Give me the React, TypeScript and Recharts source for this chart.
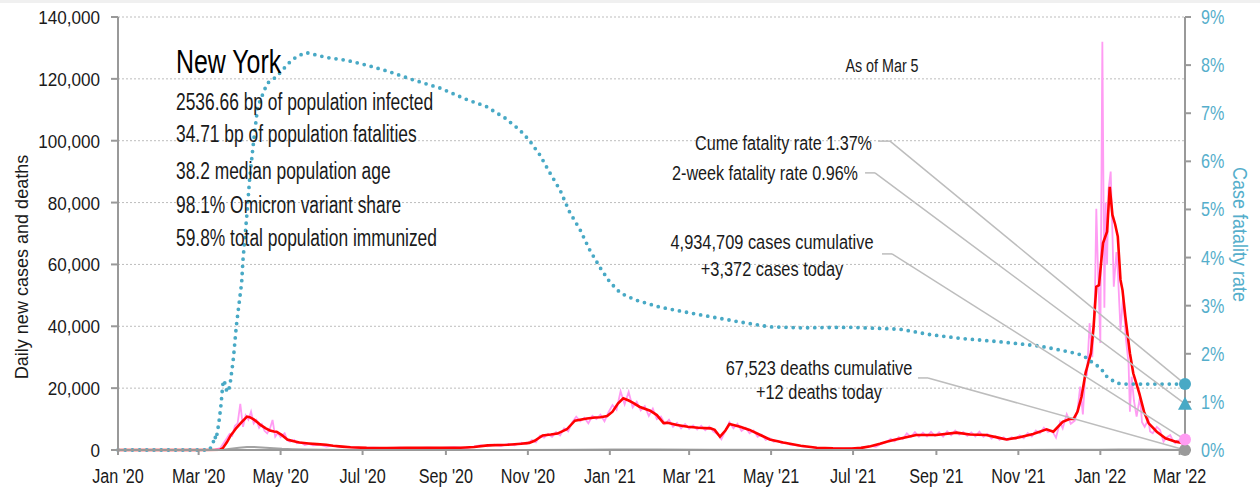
import React from 'react';
import { ComposedChart, Line, XAxis, YAxis, CartesianGrid, ReferenceDot, ReferenceLine } from 'recharts';

const FONT = '"Liberation Sans", Arial, sans-serif';
const TEAL = '#48a9c5';
const TEAL_TEXT = '#55aecb';
const PINK = '#ff9cf3';
const RED = '#ff0000';
const GREY = '#a3a3a3';
const INK = '#1a1a1a';

// x values are days since 1 Jan 2020, the last one is 5 Mar 2022
const lastDay = 794;
const monthTickDays = [0, 60, 121, 182, 244, 305, 366, 425, 486, 547, 609, 670, 731, 790];
const monthTickLabels = ["Jan '20", "Mar '20", "May '20", "Jul '20", "Sep '20", "Nov '20", "Jan '21", "Mar '21", "May '21", "Jul '21", "Sep '21", "Nov '21", "Jan '22", "Mar '22"];
const caseTicks = [0, 20000, 40000, 60000, 80000, 100000, 120000, 140000];
const rateTicks = [0, 1, 2, 3, 4, 5, 6, 7, 8, 9];

// daily new cases (as reported)
const rawCases: [number, number][] = [
  [0, 0], [60, 0], [72, 100], [76, 600], [79, 2500], [81, 3800], [83, 5200], [85, 4600], [87, 7800], [89, 8600],
  [91, 14900], [93, 7500], [95, 11200], [97, 9800], [99, 12400], [101, 8600], [103, 9700], [105, 7200], [107, 8400],
  [109, 6200], [111, 5400], [113, 6800], [115, 9700], [117, 4300], [119, 5600], [121, 4200], [124, 5400], [126, 3100],
  [128, 2700], [131, 3300], [133, 2200], [136, 2500], [139, 1600], [142, 2000], [145, 1500], [150, 1700], [155, 1100],
  [160, 1400], [165, 900], [170, 1000], [180, 700], [190, 800], [200, 600], [210, 750], [220, 600], [230, 800],
  [240, 650], [250, 900], [260, 700], [270, 1600], [275, 1200], [280, 1700], [285, 1300], [290, 2000], [295, 1500],
  [300, 2400], [304, 1900], [308, 3200], [311, 2500], [314, 4600], [317, 4000], [320, 5200], [323, 4300], [326, 5800],
  [329, 4700], [332, 7000], [335, 6000], [338, 9000], [341, 10800], [344, 9300], [347, 10400], [350, 8600], [353, 11000],
  [356, 10000], [359, 11400], [362, 9300], [365, 12200], [368, 14500], [371, 13000], [374, 19000], [377, 14800],
  [380, 18800], [383, 13800], [386, 15600], [389, 12800], [392, 14200], [395, 11000], [398, 13400], [401, 10000],
  [404, 10800], [407, 8400], [410, 9800], [413, 7500], [416, 8800], [419, 7000], [422, 8400], [425, 6900], [428, 7900],
  [431, 6600], [434, 7800], [437, 6400], [440, 7600], [443, 6000], [446, 5200], [449, 3500], [452, 6200], [455, 9000],
  [458, 7000], [461, 8500], [464, 6200], [467, 7200], [470, 5400], [473, 6300], [476, 4300], [479, 5000], [482, 3300],
  [485, 3800], [488, 2700], [491, 3000], [494, 2200], [497, 2400], [500, 1700], [505, 1500], [510, 1100], [515, 1000],
  [520, 700], [530, 600], [540, 450], [550, 600], [556, 900], [560, 1300], [564, 1000], [568, 2000], [572, 2600],
  [575, 3600], [578, 2800], [581, 4200], [584, 3500], [587, 5400], [590, 4200], [593, 5800], [596, 4300], [599, 5600],
  [602, 4400], [605, 5900], [608, 4500], [611, 5700], [614, 4300], [617, 6000], [620, 4800], [623, 6300], [626, 5000],
  [629, 5800], [632, 4600], [635, 5700], [638, 4400], [641, 5900], [644, 4300], [647, 5200], [650, 3700], [653, 4500],
  [656, 3300], [659, 4100], [662, 3200], [665, 4100], [668, 3600], [671, 4700], [674, 3800], [677, 5500], [680, 4400],
  [683, 6300], [686, 5400], [689, 7200], [692, 5800], [695, 6300], [698, 4000], [701, 9000], [703, 7000], [706, 11600],
  [709, 8500], [712, 9500], [714, 12800], [716, 20500], [718, 11500], [720, 25900], [721, 24000], [723, 41000],
  [725, 30000], [727, 50000], [728, 78000], [729, 62000], [731, 34600], [732.5, 132000], [734, 46000], [735, 80000],
  [736, 60000], [737, 84000], [738.7, 90000], [740, 70000], [741, 52800], [743, 64000], [744, 58000], [746, 38800],
  [748, 50000], [750, 36000], [752, 28000], [753, 12400], [754.3, 23700], [756, 16000], [758, 10800], [760.5, 17200],
  [762, 9000], [764, 7500], [766.7, 9900], [768, 6000], [770, 5400], [773, 7500], [775.4, 6500], [778, 2700],
  [780, 4000], [783, 4800], [785, 3000], [786.7, 2200], [788, 3000], [790.5, 3200], [792, 1800], [794, 3372],
];

// 7-day average of new cases
const avgCases: [number, number][] = [
  [0, 0], [60, 0], [76, 100], [78, 600], [81, 2500], [84, 4800], [86, 5900], [88, 7100], [92, 9000], [96, 10800],
  [98, 10600], [101, 9900], [104, 8900], [106, 8100], [110, 7000], [113, 6300], [116, 6000], [118, 5900], [122, 4800],
  [126, 3400], [130, 2900], [135, 2400], [142, 2100], [148, 1900], [155, 1700], [160, 1400], [167, 1100], [173, 870],
  [185, 700], [200, 650], [215, 700], [230, 700], [243, 700], [255, 750], [265, 950], [275, 1500], [290, 1700],
  [300, 2000], [306, 2300], [310, 3000], [316, 4700], [322, 5000], [327, 5300], [334, 6700], [340, 9500], [349, 10200],
  [355, 10500], [359, 10600], [364, 11000], [368, 12400], [372, 15000], [376, 16700], [380, 16000], [383, 15300],
  [388, 14000], [396, 12700], [401, 11300], [406, 8700], [409, 8800], [416, 8100], [424, 7500], [432, 7200],
  [441, 7000], [444, 6500], [448, 4300], [452, 6300], [455, 8400], [463, 7500], [470, 6500], [478, 4850], [485, 3400],
  [495, 2400], [508, 1400], [520, 750], [532, 550], [546, 500], [553, 700], [560, 1200], [567, 2000], [572, 2700],
  [578, 3300], [584, 3900], [594, 4850], [609, 4850], [624, 5600], [634, 5000], [646, 4850], [655, 4000], [661, 3400],
  [671, 4100], [681, 5200], [691, 6700], [696, 5900], [703, 9100], [708, 10000], [711, 10000], [714, 12400],
  [717, 17200], [720, 24900], [724, 31300], [726, 39900], [728, 52800], [730, 53300], [732, 62500], [733, 66900],
  [736, 70600], [738, 85100], [740, 76000], [742, 73000], [744, 69000], [746, 55000], [747.5, 51700], [749.6, 43100],
  [753, 31300], [755.5, 24800], [760, 18300], [763.5, 12400], [767, 8600], [773, 5900], [779.5, 3800], [787, 2700],
  [794, 2100],
];

// daily new deaths
const dailyDeaths: [number, number][] = [
  [0, 0], [72, 0], [78, 100], [84, 400], [90, 750], [96, 950], [100, 1000], [104, 900], [110, 750], [116, 550],
  [122, 380], [130, 250], [140, 150], [155, 90], [175, 40], [200, 20], [260, 15], [300, 30], [340, 90], [370, 160],
  [400, 140], [440, 80], [480, 50], [520, 15], [560, 10], [600, 25], [650, 25], [700, 50], [730, 120], [745, 200],
  [760, 150], [780, 60], [794, 12],
];

// cumulative case fatality rate, %
const fatalityRate: [number, number][] = [
  [0, 0], [68, 0], [70.7, 0.14], [72, 0.29], [73, 0.22], [74.4, 0.45], [75.2, 0.6], [75.9, 0.76], [76.5, 0.9],
  [77, 1.05], [77.5, 1.21], [78, 1.35], [78.4, 1.45], [79.5, 1.39], [81, 1.21], [82, 1.21], [83.3, 1.35], [84, 1.49],
  [84.6, 1.63], [85.4, 1.79], [86, 1.94], [88, 2.56], [89.5, 2.91], [92, 3.47], [93, 3.95], [96, 4.92], [98, 5.65],
  [101, 6.44], [104, 7.14], [111, 7.62], [118, 7.76], [127, 8.04], [133, 8.18], [140, 8.26], [155, 8.16], [170, 8.1],
  [185, 8.0], [200, 7.88], [220, 7.69], [240, 7.52], [259, 7.29], [274, 7.14], [288, 6.9], [299, 6.65], [306, 6.44],
  [314, 6.13], [321, 5.78], [329, 5.4], [336, 4.95], [344, 4.57], [351, 4.16], [359, 3.78], [366, 3.49], [374, 3.26],
  [385, 3.12], [403, 2.97], [433, 2.81], [463, 2.66], [485, 2.56], [508, 2.54], [545, 2.55], [582, 2.51], [604, 2.4],
  [627, 2.32], [656, 2.25], [686, 2.16], [708, 2.04], [718, 1.97], [726, 1.8], [731, 1.71], [736, 1.52], [743, 1.39],
  [750, 1.37], [794, 1.37],
];

const cumeRate = 1.37;
const twoWeekRate = 0.96;
const casesToday = 3372;
const deathsToday = 12;

const statLines = [
  '2536.66 bp of population infected',
  '34.71 bp of population fatalities',
  '38.2 median population age',
  '98.1% Omicron variant share',
  '59.8% total population immunized',
];
const statBaselines = [110, 142, 179, 213, 246];

// leader lines: label anchor (day, value), elbow day, axis, end value
const leaders = [
  { axis: 'right', day: 565.6, value: 6.42, elbow: 574.5, end: cumeRate },
  { axis: 'right', day: 555.9, value: 5.76, elbow: 563.3, end: twoWeekRate },
  { axis: 'left', day: 568.5, value: 63400, elbow: 576, end: casesToday },
  { axis: 'left', day: 595.3, value: 23300, elbow: 602.8, end: deathsToday },
];

const toRows = (pairs: [number, number][]) => pairs.map(([day, v]) => ({ day, v }));

// condensed text: Liberation Sans squeezed horizontally
const NText = ({ x, y, size, sx, anchor = 'start', fill = INK, rotate = 0, children }: any) => (
  <text
    transform={`translate(${x} ${y}) rotate(${rotate}) scale(${sx} 1)`}
    fontFamily={FONT}
    fontSize={size}
    textAnchor={anchor}
    fill={fill}
  >
    {children}
  </text>
);

const LeftTick = (p: any) => (
  <NText x={p.x} y={p.y + 7} size={19} sx={0.9} anchor="end">
    {Number(p.payload.value).toLocaleString('en-US')}
  </NText>
);

const RightTick = (p: any) => (
  <NText x={p.x} y={p.y + 7} size={19.5} sx={0.83} fill={TEAL_TEXT}>
    {`${p.payload.value}%`}
  </NText>
);

const BottomTick = (p: any) => (
  <NText x={p.x} y={p.y + 28} size={21} sx={0.77} anchor="middle">
    {monthTickLabels[monthTickDays.indexOf(p.payload.value)]}
  </NText>
);

const Triangle = (props: any) => {
  const { cx, cy } = props;
  return <polygon points={`${cx},${cy - 7} ${cx - 7},${cy + 6} ${cx + 7},${cy + 6}`} fill={TEAL} />;
};

export default function App() {
  return (
    <div style={{ position: 'absolute', left: 0, top: 0, width: 1260, height: 491, background: '#fff' }}>
      <div style={{ position: 'absolute', left: 0, top: 0, width: 1260, height: 3, background: '#f0f0f0' }} />
      <ComposedChart width={1260} height={491} margin={{ top: 17, right: 0, bottom: 0, left: 0 }}>
        <CartesianGrid yAxisId="left" vertical={false} stroke="#bdbdbd" strokeDasharray="2 2" />
        <XAxis
          dataKey="day"
          type="number"
          domain={[0, lastDay]}
          ticks={monthTickDays}
          height={41}
          tickSize={5}
          tickMargin={0}
          stroke="#999"
          strokeWidth={2}
          tick={BottomTick}
          interval={0}
        />
        <YAxis
          yAxisId="left"
          domain={[0, 140000]}
          ticks={caseTicks}
          width={118}
          tickSize={7}
          tickMargin={11}
          stroke="#999"
          strokeWidth={2}
          tick={LeftTick}
          interval={0}
        />
        <YAxis
          yAxisId="right"
          orientation="right"
          domain={[0, 9]}
          ticks={rateTicks}
          width={75}
          tickSize={6}
          tickMargin={10}
          stroke="#999"
          strokeWidth={2}
          tick={RightTick}
          interval={0}
        />
        <Line yAxisId="left" data={toRows(dailyDeaths)} dataKey="v" stroke={GREY} strokeWidth={2} dot={false} isAnimationActive={false} />
        <Line yAxisId="left" data={toRows(rawCases)} dataKey="v" stroke={PINK} strokeWidth={1.8} dot={false} isAnimationActive={false} />
        <Line yAxisId="left" data={toRows(avgCases)} dataKey="v" stroke={RED} strokeWidth={2.6} dot={false} isAnimationActive={false} />
        <Line
          yAxisId="right"
          data={toRows(fatalityRate)}
          dataKey="v"
          stroke={TEAL}
          strokeWidth={3.8}
          strokeDasharray="0 7.2"
          strokeLinecap="round"
          dot={false}
          isAnimationActive={false}
        />
        {leaders.map((l, i) => (
          <ReferenceLine
            key={`h${i}`}
            yAxisId={l.axis}
            segment={[{ x: l.day, y: l.value }, { x: l.elbow, y: l.value }]}
            stroke="#bdbdbd"
            strokeWidth={1.5}
          />
        ))}
        {leaders.map((l, i) => (
          <ReferenceLine
            key={`d${i}`}
            yAxisId={l.axis}
            segment={[{ x: l.elbow, y: l.value }, { x: lastDay, y: l.end }]}
            stroke="#bdbdbd"
            strokeWidth={1.5}
          />
        ))}
        <ReferenceDot yAxisId="left" x={lastDay} y={deathsToday} r={6} fill="#9a9a9a" stroke="none" ifOverflow="visible" />
        <ReferenceDot yAxisId="left" x={lastDay} y={casesToday} r={6} fill={PINK} stroke="none" ifOverflow="visible" />
        <ReferenceDot yAxisId="right" x={lastDay} y={twoWeekRate} r={6} shape={Triangle} ifOverflow="visible" />
        <ReferenceDot yAxisId="right" x={lastDay} y={cumeRate} r={6} fill={TEAL} stroke="none" ifOverflow="visible" />
      </ComposedChart>
      <svg width={1260} height={491} style={{ position: 'absolute', left: 0, top: 0, pointerEvents: 'none' }}>
        <NText x={176} y={72.5} size={33} sx={0.755} fill="#000">New York</NText>
        {statLines.map((s, i) => (
          <NText key={s} x={176} y={statBaselines[i]} size={24.5} sx={0.71}>{s}</NText>
        ))}
        <NText x={882} y={72} size={18.6} sx={0.77} anchor="middle">As of Mar 5</NText>
        <NText x={872} y={150} size={21} sx={0.77} anchor="end">Cume fatality rate 1.37%</NText>
        <NText x={858} y={180} size={21} sx={0.77} anchor="end">2-week fatality rate 0.96%</NText>
        <NText x={772} y={249} size={21} sx={0.78} anchor="middle">4,934,709 cases cumulative</NText>
        <NText x={772} y={276} size={21} sx={0.78} anchor="middle">+3,372 cases today</NText>
        <NText x={819} y={375} size={21} sx={0.78} anchor="middle">67,523 deaths cumulative</NText>
        <NText x={819} y={399} size={21} sx={0.78} anchor="middle">+12 deaths today</NText>
        <NText x={28} y={267} size={18.6} sx={0.97} anchor="middle" rotate={-90}>Daily new cases and deaths</NText>
        <NText x={1233} y={234.5} size={20} sx={0.9} anchor="middle" rotate={90} fill={TEAL_TEXT}>Case fatality rate</NText>
      </svg>
    </div>
  );
}
